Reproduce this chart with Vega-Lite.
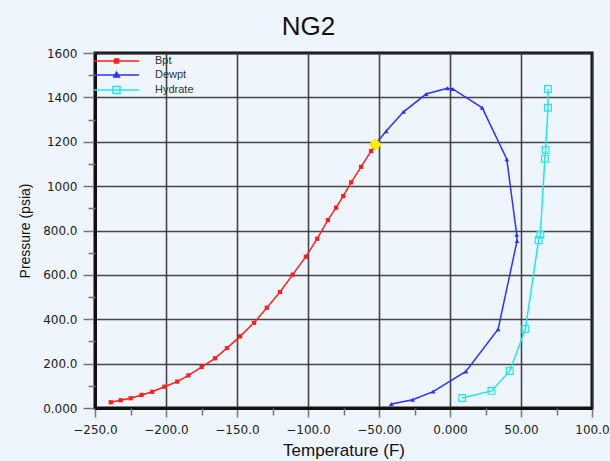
{
  "$schema": "https://vega.github.io/schema/vega-lite/v6.json",
  "width": 497,
  "height": 355,
  "autosize": {"type": "none"},
  "padding": {"left": 95, "top": 53, "right": 18, "bottom": 53},
  "background": "#eef5fd",
  "title": {"text": "NG2", "fontSize": 26, "font": "Liberation Sans", "fontWeight": "normal", "color": "#111", "anchor": "middle", "dx": -35, "offset": 7},
  "config": {"view": {"stroke": "#111", "strokeWidth": 3, "fill": "#eef5fd"}},
  "datasets": {
    "curves": [
      {"s": "Bpt", "i": 1, "t": -238.9, "p": 26},
      {"s": "Bpt", "i": 2, "t": -231.9, "p": 35},
      {"s": "Bpt", "i": 3, "t": -224.9, "p": 44},
      {"s": "Bpt", "i": 4, "t": -217.2, "p": 59},
      {"s": "Bpt", "i": 5, "t": -209.7, "p": 73},
      {"s": "Bpt", "i": 6, "t": -201.1, "p": 96},
      {"s": "Bpt", "i": 7, "t": -192.1, "p": 119},
      {"s": "Bpt", "i": 8, "t": -184.2, "p": 147},
      {"s": "Bpt", "i": 9, "t": -174.8, "p": 185},
      {"s": "Bpt", "i": 10, "t": -165.5, "p": 224},
      {"s": "Bpt", "i": 11, "t": -157.1, "p": 270},
      {"s": "Bpt", "i": 12, "t": -147.8, "p": 323},
      {"s": "Bpt", "i": 13, "t": -138.0, "p": 384},
      {"s": "Bpt", "i": 14, "t": -129.0, "p": 452},
      {"s": "Bpt", "i": 15, "t": -119.7, "p": 523},
      {"s": "Bpt", "i": 16, "t": -110.8, "p": 601},
      {"s": "Bpt", "i": 17, "t": -101.5, "p": 682},
      {"s": "Bpt", "i": 18, "t": -93.5, "p": 763},
      {"s": "Bpt", "i": 19, "t": -86.0, "p": 847},
      {"s": "Bpt", "i": 20, "t": -80.2, "p": 903},
      {"s": "Bpt", "i": 21, "t": -75.2, "p": 955},
      {"s": "Bpt", "i": 22, "t": -69.6, "p": 1017},
      {"s": "Bpt", "i": 23, "t": -62.6, "p": 1087},
      {"s": "Bpt", "i": 24, "t": -55.6, "p": 1158},
      {"s": "Bpt", "i": 25, "t": -52.6, "p": 1188},
      {"s": "Dewpt", "i": 1, "t": -41.4, "p": 18},
      {"s": "Dewpt", "i": 2, "t": -26.3, "p": 37},
      {"s": "Dewpt", "i": 3, "t": -11.9, "p": 74},
      {"s": "Dewpt", "i": 4, "t": 11.2, "p": 165},
      {"s": "Dewpt", "i": 5, "t": 33.9, "p": 355},
      {"s": "Dewpt", "i": 6, "t": 47.2, "p": 753},
      {"s": "Dewpt", "i": 7, "t": 47.0, "p": 781},
      {"s": "Dewpt", "i": 8, "t": 40.0, "p": 1121},
      {"s": "Dewpt", "i": 9, "t": 22.7, "p": 1353},
      {"s": "Dewpt", "i": 10, "t": 1.9, "p": 1438},
      {"s": "Dewpt", "i": 11, "t": -1.9, "p": 1441},
      {"s": "Dewpt", "i": 12, "t": -16.8, "p": 1415},
      {"s": "Dewpt", "i": 13, "t": -32.7, "p": 1335},
      {"s": "Dewpt", "i": 14, "t": -44.9, "p": 1248},
      {"s": "Dewpt", "i": 15, "t": -52.6, "p": 1188},
      {"s": "Hydrate", "i": 1, "t": 8.6, "p": 45},
      {"s": "Hydrate", "i": 2, "t": 29.2, "p": 77},
      {"s": "Hydrate", "i": 3, "t": 42.1, "p": 167},
      {"s": "Hydrate", "i": 4, "t": 53.1, "p": 356},
      {"s": "Hydrate", "i": 5, "t": 62.4, "p": 756},
      {"s": "Hydrate", "i": 6, "t": 63.6, "p": 781},
      {"s": "Hydrate", "i": 7, "t": 66.8, "p": 1123},
      {"s": "Hydrate", "i": 8, "t": 67.3, "p": 1163},
      {"s": "Hydrate", "i": 9, "t": 69.0, "p": 1353},
      {"s": "Hydrate", "i": 10, "t": 69.0, "p": 1438}
    ],
    "crit": [{"t": -52.6, "p": 1188}]
  },
  "layer": [
    {
      "data": {"name": "curves"},
      "mark": {"type": "line", "strokeWidth": 1.5},
      "encoding": {
        "x": {"field": "t", "type": "quantitative", "scale": {"domain": [-250, 100], "nice": false, "zero": false},
          "axis": {"orient": "bottom", "values": [-250, -200, -150, -100, -50, 0, 50, 100],
            "labelExpr": "datum.value == 0 ? '0.000' : (abs(datum.value) >= 100 ? format(datum.value, '.1f') : format(datum.value, '.2f'))",
            "title": "Temperature (F)", "titleFont": "Liberation Sans", "titleFontSize": 17, "titleFontWeight": "normal", "titleColor": "#111", "titleBaseline": "alphabetic", "titleY": 47,
            "labelFont": "DejaVu Sans", "labelFontSize": 12, "labelColor": "#222", "labelPadding": 7, "labelFlush": false, "labelOverlap": false, "labelBound": false,
            "tickSize": 9, "tickColor": "#777", "tickWidth": 1.5, "domainColor": "#111", "domainWidth": 3,
            "grid": true, "gridColor": "#333", "gridWidth": 1.6, "gridOpacity": 0.9}},
        "y": {"field": "p", "type": "quantitative", "scale": {"domain": [0, 1600], "nice": false},
          "axis": {"orient": "left", "values": [0, 200, 400, 600, 800, 1000, 1200, 1400, 1600],
            "labelExpr": "datum.value == 0 ? '0.000' : (datum.value < 1000 ? format(datum.value, '.1f') : format(datum.value, 'd'))",
            "title": "Pressure (psia)", "titleFont": "Liberation Sans", "titleFontSize": 14, "titleFontWeight": "normal", "titleColor": "#111", "titleX": -70, "titleY": 177.5, "titleAngle": -90, "titleBaseline": "middle", "titleAlign": "center",
            "labelFont": "DejaVu Sans", "labelFontSize": 12, "labelColor": "#222", "labelPadding": 6, "labelFlush": false, "labelOverlap": false, "labelBound": false,
            "tickSize": 12, "tickColor": "#777", "tickWidth": 1.5, "domainColor": "#111", "domainWidth": 3,
            "grid": true, "gridColor": "#333", "gridWidth": 1.6, "gridOpacity": 0.9}},
        "color": {"field": "s", "type": "nominal",
          "scale": {"domain": ["Bpt", "Dewpt", "Hydrate"], "range": ["#ff1f1f", "#2f2fff", "#1ee6f0"]},
          "legend": {"orient": "none", "legendX": 15.5, "legendY": 2, "title": null, "padding": 0, "symbolSize": 100,
            "labelFont": "Liberation Sans", "labelFontSize": 11, "labelColor": "#333", "labelOffset": 32.5, "rowPadding": 3, "symbolStrokeWidth": 1.5,
            "encode": {"symbols": {"update": {
              "shape": {"signal": "datum.value === 'Bpt' ? 'M-4.5,0H4.5M-0.4,-0.4H0.4V0.4H-0.4Z' : (datum.value === 'Dewpt' ? 'M-4.5,0H4.5M0,-0.55L0.55,0.4H-0.55Z' : 'M-4.5,0H4.5M-0.7,-0.7H0.7V0.7H-0.7Z')"},
              "fill": {"signal": "datum.value === 'Bpt' ? '#ff1f1f' : (datum.value === 'Dewpt' ? '#2f2fff' : 'transparent')"}
            }}}}},
        "order": {"field": "i", "type": "quantitative"}
      }
    },
    {
      "data": {"name": "curves"},
      "transform": [{"filter": "datum.s === 'Bpt'"}],
      "mark": {"type": "point", "shape": "square", "filled": true, "size": 18, "color": "#ff1f1f", "opacity": 1},
      "encoding": {
        "x": {"field": "t", "type": "quantitative",
          "axis": {"orient": "bottom", "values": [-225, -175, -125, -75, -25, 25, 75], "labels": false, "grid": false, "domain": false, "title": null, "tickSize": 7, "tickColor": "#777", "tickWidth": 1.5}},
        "y": {"field": "p", "type": "quantitative",
          "axis": {"orient": "left", "values": [100, 300, 500, 700, 900, 1100, 1300, 1500], "labels": false, "grid": false, "domain": false, "title": null, "tickSize": 7, "tickColor": "#777", "tickWidth": 1.5}}
      }
    },
    {
      "data": {"name": "curves"},
      "transform": [{"filter": "datum.s === 'Dewpt'"}],
      "mark": {"type": "point", "shape": "triangle-up", "filled": true, "size": 22, "color": "#2f2fff", "opacity": 1},
      "encoding": {
        "x": {"field": "t", "type": "quantitative", "axis": null},
        "y": {"field": "p", "type": "quantitative", "axis": null}
      }
    },
    {
      "data": {"name": "curves"},
      "transform": [{"filter": "datum.s === 'Hydrate'"}],
      "mark": {"type": "point", "shape": "square", "filled": false, "size": 45, "strokeWidth": 1.2, "color": "#1ee6f0", "opacity": 1},
      "encoding": {
        "x": {"field": "t", "type": "quantitative", "axis": null},
        "y": {"field": "p", "type": "quantitative", "axis": null}
      }
    },
    {
      "data": {"name": "crit"},
      "mark": {"type": "point", "shape": "diamond", "filled": true, "size": 170, "color": "#ffee00", "opacity": 1},
      "encoding": {
        "x": {"field": "t", "type": "quantitative", "axis": null},
        "y": {"field": "p", "type": "quantitative", "axis": null}
      }
    }
  ],
  "resolve": {"axis": {"x": "independent", "y": "independent"}}
}
